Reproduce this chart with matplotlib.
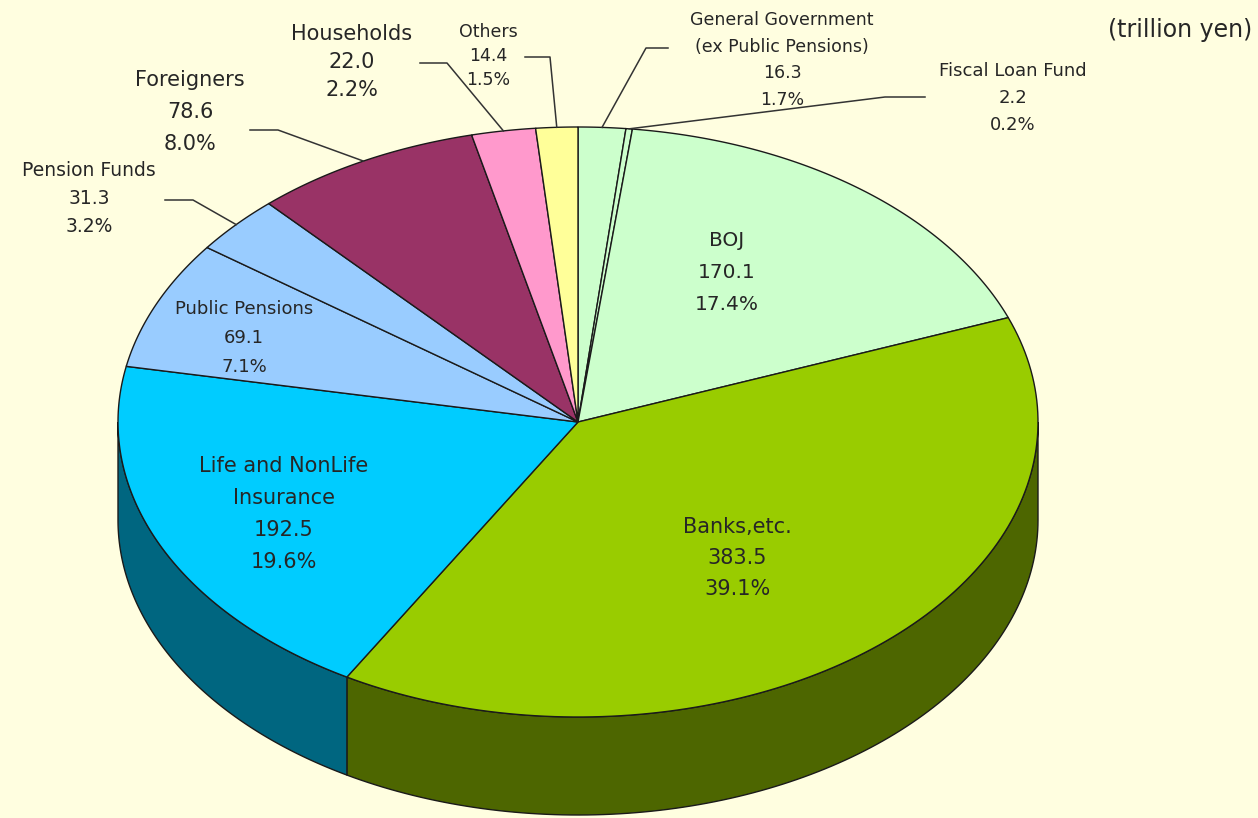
import numpy as np
import matplotlib
matplotlib.use('Agg')
import matplotlib.pyplot as plt
from matplotlib.colors import to_rgb

# Holders of government bonds (trillion yen), clockwise from 12 o'clock
holders = ['General Government\n(ex Public Pensions)', 'Fiscal Loan Fund', 'BOJ',
           'Banks,etc.', 'Life and NonLife\nInsurance', 'Public Pensions',
           'Pension Funds', 'Foreigners', 'Households', 'Others']
amounts = [16.3, 2.2, 170.1, 383.5, 192.5, 69.1, 31.3, 78.6, 22.0, 14.4]
colors = ['#CCFFCC', '#CCFFCC', '#CCFFCC', '#99CC00', '#00CCFF', '#99CCFF',
          '#99CCFF', '#993366', '#FF99CC', '#FFFF99']

BG = '#FFFEE0'
TXT = '#262626'

# pie geometry in pixels
CX, CY = 578, 422
RX, RY = 460, 295
DEPTH = 98

# label layout: centre x, centre y, line spacing, font size
label_pos = {
    'General Government\n(ex Public Pensions)': (782, 60, 26.7, 12.5),
    'Fiscal Loan Fund': (1013, 98, 26.5, 13),
    'BOJ': (727, 272, 32, 14.5),
    'Banks,etc.': (737, 558, 31, 15),
    'Life and NonLife\nInsurance': (284, 514, 31.7, 15),
    'Public Pensions': (244, 338, 28.5, 13),
    'Pension Funds': (89, 198, 28, 13.5),
    'Foreigners': (190, 112, 31.5, 15),
    'Households': (352, 62, 28.5, 15),
    'Others': (488, 56, 24, 12.5),
}

# leader lines: label end and elbow; the tip sits on the rim at mid-slice
leaders = {
    'General Government\n(ex Public Pensions)': ((668, 48), (646, 48)),
    'Fiscal Loan Fund': ((925, 97), (885, 97)),
    'Foreigners': ((250, 130), (278, 130)),
    'Pension Funds': ((165, 200), (193, 200)),
    'Households': ((420, 63), (447, 63)),
    'Others': ((525, 57), (550, 57)),
}


def ellipse_pts(t1, t2, dy=0, n=120):
    t = np.radians(np.linspace(t1, t2, n))
    return CX + RX * np.cos(t), CY - RY * np.sin(t) + dy


total = sum(amounts)
cum = np.concatenate([[0], np.cumsum(amounts)])
starts = 90 - cum[:-1] / total * 360
ends = 90 - cum[1:] / total * 360

fig = plt.figure(figsize=(12.58, 8.18), dpi=100)
fig.patch.set_facecolor(BG)
ax = fig.add_axes([0, 0, 1, 1])
ax.set_xlim(0, 1258)
ax.set_ylim(818, 0)
ax.axis('off')
ax.set_facecolor(BG)

# side walls of the front half
for a, b, c in zip(starts, ends, colors):
    lo, hi = max(b, -180), min(a, 0)
    if lo >= hi:
        continue
    xt, yt = ellipse_pts(hi, lo)
    xb, yb = ellipse_pts(lo, hi, dy=DEPTH)
    shade = tuple(v * 0.5 for v in to_rgb(c))
    ax.fill(np.r_[xt, xb], np.r_[yt, yb], facecolor=shade,
            edgecolor='#1a1a1a', lw=1.0, zorder=1)

# top faces
for a, b, c in zip(starts, ends, colors):
    xs, ys = ellipse_pts(a, b)
    ax.fill(np.r_[CX, xs], np.r_[CY, ys], facecolor=c,
            edgecolor='#1a1a1a', lw=1.0, zorder=2)

# labels
for name, v, a, b in zip(holders, amounts, starts, ends):
    x, yc, sp, fs = label_pos[name]
    lines = name.split('\n') + [f'{v:.1f}', f'{v / total * 100:.1f}%']
    n = len(lines)
    for i, s in enumerate(lines):
        ax.text(x, yc + (i - (n - 1) / 2) * sp, s, ha='center', va='center',
                fontsize=fs, color=TXT, family='DejaVu Sans', zorder=4)
    if name in leaders:
        p0, p1 = leaders[name]
        t = np.radians((a + b) / 2)
        tip = (CX + RX * np.cos(t), CY - RY * np.sin(t))
        ax.plot([p0[0], p1[0], tip[0]], [p0[1], p1[1], tip[1]],
                color='#333333', lw=1.1, zorder=3)

ax.text(1252, 30, '(trillion yen)', ha='right', va='center', fontsize=17,
        color=TXT, family='DejaVu Sans')

fig.savefig('out.png', dpi=100, facecolor=BG)
